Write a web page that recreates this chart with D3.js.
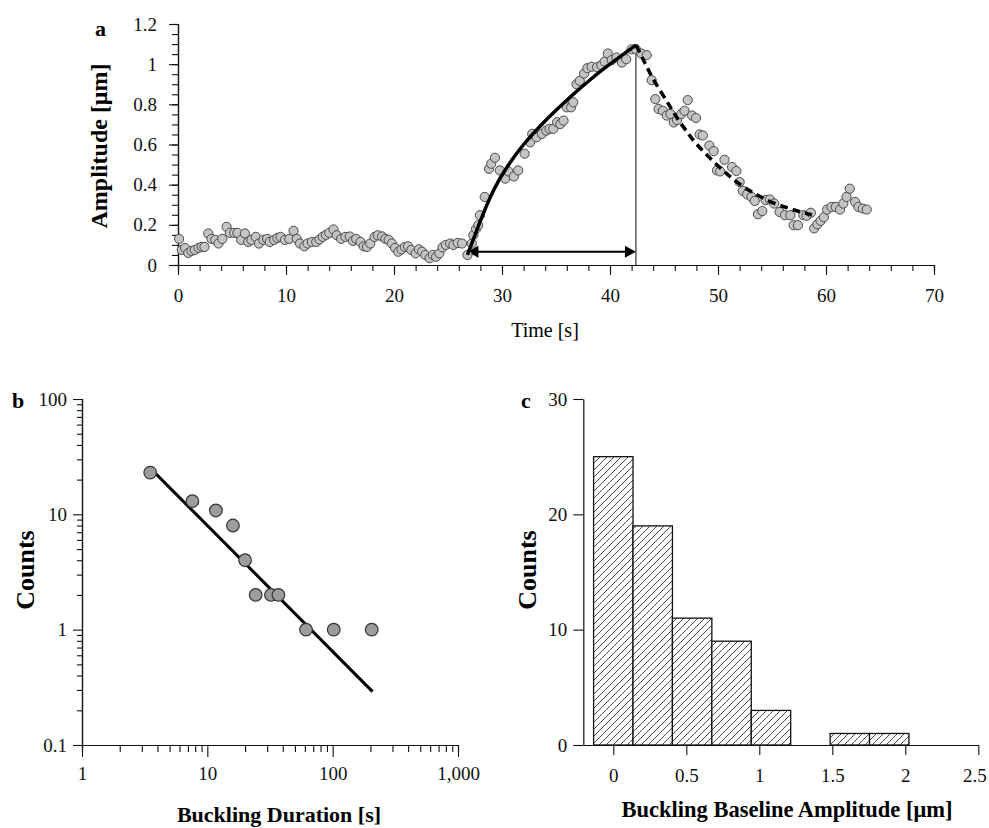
<!DOCTYPE html>
<html><head><meta charset="utf-8">
<script src="https://cdn.jsdelivr.net/npm/d3@7"></script>
<style>
html,body{margin:0;padding:0;background:#fff;}
svg{display:block;font-family:"Liberation Serif","Times New Roman",serif;}
</style></head>
<body>
<svg id="c" width="989" height="828"></svg>
<script>
// ---------- Panel a data ----------
const timeA = [0.1,0.35,0.65,0.95,1.25,1.55,1.9,2.2,2.45,2.8,3.1,3.45,3.75,4.1,4.5,4.8,5.2,5.5,5.85,6.2,6.5,6.8,7.2,7.5,7.9,8.25,8.5,8.9,9.2,9.5,9.9,10.3,10.7,11.0,11.3,11.7,12.0,12.4,12.8,13.1,13.4,13.7,14.0,
14.4,14.7,15.1,15.5,15.9,16.2,16.5,16.9,17.2,17.5,17.8,18.2,18.5,18.9,19.2,19.5,19.8,20.1,20.4,20.7,21.0,21.3,21.6,22.0,22.3,22.6,22.9,23.3,23.6,23.9,24.2,24.5,24.8,25.2,25.5,25.9,26.3,26.8,
27.2,27.35,27.6,27.8,27.96,28.4,28.8,29.0,29.35,29.8,30.3,30.6,31.1,31.5,32.1,32.6,32.8,33.2,33.7,34.1,34.4,34.75,35.1,35.4,35.7,36.0,36.4,36.6,36.9,37.2,37.6,37.9,38.3,38.8,39.2,39.5,39.8,40.15,40.6,41.1,41.5,42.0,42.4,42.9,43.4,
43.86,44.2,44.5,44.9,45.25,45.6,45.9,46.2,46.6,46.9,47.2,47.6,47.96,48.3,48.6,49.2,49.6,49.9,50.2,50.6,51.3,51.7,52.0,52.3,52.7,53.1,53.4,53.7,54.1,54.4,54.8,55.2,55.7,56.2,56.7,57.0,57.4,57.9,58.2,58.6,58.9,59.2,59.5,59.8,60.1,60.5,60.9,61.3,61.6,61.9,62.2,62.7,63.0,63.4,63.77];
const ampA = [0.13,0.075,0.085,0.06,0.07,0.075,0.085,0.09,0.09,0.157,0.13,0.125,0.107,0.13,0.19,0.16,0.16,0.16,0.125,0.157,0.115,0.125,0.14,0.107,0.125,0.13,0.115,0.125,0.135,0.14,0.125,0.13,0.17,0.13,0.107,0.093,0.107,0.115,0.115,0.127,0.14,0.15,0.16,
0.177,0.148,0.13,0.14,0.142,0.12,0.13,0.115,0.093,0.09,0.107,0.14,0.148,0.142,0.13,0.125,0.107,0.085,0.066,0.078,0.09,0.093,0.075,0.058,0.078,0.066,0.05,0.034,0.05,0.041,0.058,0.088,0.1,0.107,0.1,0.11,0.107,0.05,
0.107,0.149,0.18,0.198,0.248,0.339,0.479,0.504,0.534,0.471,0.43,0.466,0.441,0.471,0.554,0.611,0.653,0.636,0.653,0.669,0.678,0.678,0.711,0.702,0.719,0.785,0.785,0.81,0.9,0.917,0.953,0.98,0.987,0.985,0.995,1.013,1.053,1.02,1.033,1.008,1.025,1.074,1.074,1.053,1.045,
0.92,0.826,0.777,0.768,0.744,0.752,0.71,0.722,0.752,0.768,0.821,0.744,0.732,0.65,0.645,0.595,0.567,0.471,0.466,0.524,0.488,0.468,0.413,0.369,0.352,0.339,0.319,0.253,0.269,0.323,0.326,0.306,0.264,0.248,0.248,0.198,0.198,0.248,0.245,0.26,0.182,0.203,0.22,0.238,0.276,0.289,0.289,0.276,0.306,0.339,0.38,0.314,0.289,0.281,0.276];
// rise fit (solid) and decay fit (dashed)
const riseT = [26.8,28.0,29.2,30.5,32.0,33.5,35.0,36.5,38.0,39.5,41.0,42.4];
const riseV = [0.05,0.22,0.37,0.49,0.60,0.69,0.77,0.845,0.915,0.98,1.04,1.095];
const decayT = [42.4,43.2,43.9,44.8,45.6,46.3,47.1,48.0,49.4,50.8,52.3,53.6,55.0,56.4,57.6,58.7];
const decayV = [1.095,1.01,0.935,0.855,0.785,0.725,0.665,0.603,0.525,0.455,0.392,0.35,0.312,0.285,0.265,0.25];
const arrowStart = 26.8, arrowEnd = 42.4, arrowLevel = 0.066;
const xTicksA = [0,10,20,30,40,50,60,70];
const yTicksA = [0,0.2,0.4,0.6,0.8,1,1.2];

// ---------- Panel b data ----------
const durationB = [3.5,7.6,11.7,16,20,24.3,32.2,36.9,61.3,102,205];
const countsB = [23,13,10.8,8,4,2,2,2,1,1,1];
const fitBX = [3.55,208];
const fitBY = [24.8,0.29];
const xTicksB = [1,10,100,1000];
const xTickLabelsB = ["1","10","100","1,000"];
const yTicksB = [0.1,1,10,100];
const yTickLabelsB = ["0.1","1","10","100"];

// ---------- Panel c data ----------
const binStartC = [-0.135,0.135,0.405,0.675,0.945,1.215,1.485,1.755];
const binWidthC = 0.27;
const countsC = [25,19,11,9,3,0,1,1];
const xTicksC = [0,0.5,1,1.5,2,2.5];
const yTicksC = [0,10,20,30];

const svg = d3.select("#c");
const defs = svg.append("defs");
const pat = defs.append("pattern").attr("id","hatch").attr("patternUnits","userSpaceOnUse")
  .attr("width",7).attr("height",7);
pat.append("rect").attr("width",7).attr("height",7).attr("fill","#fff");
pat.append("path").attr("d","M0,7 L7,0 M-1.75,1.75 L1.75,-1.75 M5.25,8.75 L8.75,5.25")
  .attr("stroke","#333").attr("stroke-width",0.9);

function styleAxis(g){
  g.selectAll("path.domain").attr("stroke","#111").attr("stroke-width",1.2);
  g.selectAll(".tick line").attr("stroke","#111").attr("stroke-width",1.1);
  g.selectAll(".tick text").attr("font-family","Liberation Serif").attr("font-size",19).attr("fill","#111");
}

// ================= Panel a =================
const xa = d3.scaleLinear().domain([0,70]).range([178,934]);
const ya = d3.scaleLinear().domain([0,1.2]).range([265,24]);

const gxaMinor = svg.append("g").attr("transform","translate(0,265)")
  .call(d3.axisBottom(xa).tickValues(d3.range(0,71,2)).tickSize(6).tickFormat(""));
styleAxis(gxaMinor);
const gxa = svg.append("g").attr("transform","translate(0,265)")
  .call(d3.axisBottom(xa).tickValues(xTicksA).tickSize(10).tickSizeOuter(0).tickPadding(14).tickFormat(d=>String(d)));
styleAxis(gxa);
const gyaMinor = svg.append("g").attr("transform","translate(178,0)")
  .call(d3.axisLeft(ya).tickValues(d3.range(0,1.21,0.05)).tickSize(6).tickFormat(""));
styleAxis(gyaMinor);
const gya = svg.append("g").attr("transform","translate(178,0)")
  .call(d3.axisLeft(ya).tickValues(yTicksA).tickSize(9).tickSizeOuter(0).tickPadding(12).tickFormat(d=>String(d)));
styleAxis(gya);

// vertical marker line and arrow
svg.append("line").attr("x1",xa(arrowEnd)).attr("x2",xa(arrowEnd)).attr("y1",ya(0)).attr("y2",ya(1.1))
  .attr("stroke","#333").attr("stroke-width",1.2);
const ay = ya(arrowLevel);
svg.append("line").attr("x1",xa(arrowStart)+8).attr("x2",xa(arrowEnd)-8).attr("y1",ay).attr("y2",ay)
  .attr("stroke","#000").attr("stroke-width",2.2);
svg.append("path").attr("d",`M${xa(arrowStart)},${ay} l11,-6 l0,12 Z`).attr("fill","#000");
svg.append("path").attr("d",`M${xa(arrowEnd)},${ay} l-11,-6 l0,12 Z`).attr("fill","#000");

// points
svg.append("g").selectAll("circle").data(timeA.map((t,i)=>[t,ampA[i]])).join("circle")
  .attr("cx",d=>xa(d[0])).attr("cy",d=>ya(d[1])).attr("r",4.6)
  .attr("fill","#c4c4c4").attr("stroke","#4a4a4a").attr("stroke-width",1);

// fits
const lineA = d3.line().x(d=>xa(d[0])).y(d=>ya(d[1])).curve(d3.curveNatural);
svg.append("path").attr("d",lineA(riseT.map((t,i)=>[t,riseV[i]])))
  .attr("fill","none").attr("stroke","#000").attr("stroke-width",3.5);
svg.append("path").attr("d",lineA(decayT.map((t,i)=>[t,decayV[i]])))
  .attr("fill","none").attr("stroke","#000").attr("stroke-width",3.5).attr("stroke-dasharray","8,5");

// labels
svg.append("text").attr("x",95).attr("y",36).attr("font-weight","bold").attr("font-size",22).text("a");
svg.append("text").attr("transform","translate(107,146) rotate(-90)").attr("text-anchor","middle")
  .attr("font-weight","bold").attr("font-size",24).text("Amplitude [μm]");
svg.append("text").attr("x",545).attr("y",337).attr("text-anchor","middle").attr("font-size",20).text("Time [s]");

// ================= Panel b =================
const xb = d3.scaleLog().domain([1,1000]).range([82,458]);
const yb = d3.scaleLog().domain([0.1,100]).range([745,399]);
const minorB = [];
[1,10,100].forEach(dec=>{for(let k=2;k<=9;k++) minorB.push(dec*k);});
const minorBy = [];
[0.1,1,10].forEach(dec=>{for(let k=2;k<=9;k++) minorBy.push(+(dec*k).toPrecision(3));});
const gxbMinor = svg.append("g").attr("transform","translate(0,745)")
  .call(d3.axisBottom(xb).tickValues(minorB).tickSize(7).tickFormat(""));
styleAxis(gxbMinor);
const gxb = svg.append("g").attr("transform","translate(0,745)")
  .call(d3.axisBottom(xb).tickValues(xTicksB).tickSize(12).tickSizeOuter(0).tickPadding(10)
  .tickFormat((d,i)=>xTickLabelsB[i]));
styleAxis(gxb);
const gybMinor = svg.append("g").attr("transform","translate(82,0)")
  .call(d3.axisLeft(yb).tickValues(minorBy).tickSize(5).tickFormat(""));
styleAxis(gybMinor);
const gyb = svg.append("g").attr("transform","translate(82,0)")
  .call(d3.axisLeft(yb).tickValues(yTicksB).tickSize(9).tickSizeOuter(0).tickPadding(6)
  .tickFormat((d,i)=>yTickLabelsB[i]));
styleAxis(gyb);

svg.append("line").attr("x1",xb(fitBX[0])).attr("y1",yb(fitBY[0])).attr("x2",xb(fitBX[1])).attr("y2",yb(fitBY[1]))
  .attr("stroke","#000").attr("stroke-width",3);
svg.append("g").selectAll("circle").data(durationB.map((x,i)=>[x,countsB[i]])).join("circle")
  .attr("cx",d=>xb(d[0])).attr("cy",d=>yb(d[1])).attr("r",6.3)
  .attr("fill","#9c9c9c").attr("stroke","#333").attr("stroke-width",1.2);

svg.append("text").attr("x",12).attr("y",408).attr("font-weight","bold").attr("font-size",22).text("b");
svg.append("text").attr("transform","translate(34,570) rotate(-90)").attr("text-anchor","middle")
  .attr("font-weight","bold").attr("font-size",26).text("Counts");
svg.append("text").attr("x",279).attr("y",822).attr("text-anchor","middle")
  .attr("font-weight","bold").attr("font-size",22).text("Buckling Duration [s]");

// ================= Panel c =================
const xc = d3.scaleLinear().domain([-0.2055,2.5]).range([583.3,978.3]);
const yc = d3.scaleLinear().domain([0,30]).range([745,399]);
const gxc = svg.append("g").attr("transform","translate(0,745)")
  .call(d3.axisBottom(xc).tickValues(xTicksC).tickSize(10).tickSizeOuter(0).tickPadding(14).tickFormat(d=>String(d)));
styleAxis(gxc);
gxc.selectAll(".tick text").filter(d=>d===2.5).attr("dx",-4);
const gyc = svg.append("g").attr("transform","translate(583.3,0)")
  .call(d3.axisLeft(yc).tickValues(yTicksC).tickSize(10).tickSizeOuter(0).tickPadding(6).tickFormat(d=>String(d)));
styleAxis(gyc);

svg.append("g").selectAll("rect").data(binStartC.map((b,i)=>[b,countsC[i]]).filter(d=>d[1]>0)).join("rect")
  .attr("x",d=>xc(d[0])).attr("width",d=>xc(d[0]+binWidthC)-xc(d[0]))
  .attr("y",d=>yc(d[1])).attr("height",d=>yc(0)-yc(d[1]))
  .attr("fill","url(#hatch)").attr("stroke","#111").attr("stroke-width",1.3);

svg.append("text").attr("x",521).attr("y",408).attr("font-weight","bold").attr("font-size",22).text("c");
svg.append("text").attr("transform","translate(536,570) rotate(-90)").attr("text-anchor","middle")
  .attr("font-weight","bold").attr("font-size",26).text("Counts");
svg.append("text").attr("x",787).attr("y",817).attr("text-anchor","middle")
  .attr("font-weight","bold").attr("font-size",22.5).text("Buckling Baseline Amplitude [μm]");
</script>
</body></html>
